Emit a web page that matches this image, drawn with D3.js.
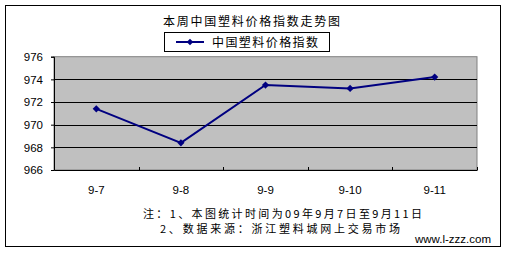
<!DOCTYPE html>
<html><head><meta charset="utf-8">
<script src="https://cdn.jsdelivr.net/npm/d3@7"></script>
<style>
html,body{margin:0;padding:0;background:#fff;}
svg{display:block;}
</style></head>
<body>
<svg id="c" width="508" height="258"></svg>
<script>
const categories = ["9-7","9-8","9-9","9-10","9-11"];
const values = [971.4, 968.4, 973.5, 973.2, 974.2];
const yTicks = [966, 968, 970, 972, 974, 976];
const title = "本周中国塑料价格指数走势图";
const seriesName = "中国塑料价格指数";
const notes = ["注：1、本图统计时间为09年9月7日至9月11日", "2、数据来源：浙江塑料城网上交易市场"];
const site = "www.l-zzz.com";

const svg = d3.select("#c");
const cjk = "'Noto Sans CJK SC', sans-serif";
const lat = "'Liberation Sans', Arial, sans-serif";
const navy = "#000080";

// outer frame
svg.append("rect").attr("x",5.5).attr("y",5.5).attr("width",495).attr("height",241)
  .attr("fill","#fff").attr("stroke","#000").attr("stroke-width",1);

const L=54, R=477, T=56.7, B=170;
const x = d3.scaleBand().domain(categories).range([L,R]);
const y = d3.scaleLinear().domain([966,976]).range([B,T]);

// plot background
svg.append("rect").attr("x",L).attr("y",T).attr("width",R-L).attr("height",B-T)
  .attr("fill","#c0c0c0").attr("stroke","#808080").attr("stroke-width",1);

// gridlines
svg.append("g").selectAll("line").data(yTicks.filter(d=>d>966&&d<976)).join("line")
  .attr("x1",L).attr("x2",R).attr("y1",d=>Math.round(y(d))+0.5).attr("y2",d=>Math.round(y(d))+0.5)
  .attr("stroke","#000").attr("stroke-width",1);

// y axis
const ya = svg.append("g").attr("transform",`translate(${L},0)`)
  .call(d3.axisLeft(y).tickValues(yTicks).tickSize(3).tickPadding(8));
ya.select(".domain").attr("stroke","#000");
ya.selectAll("text").attr("font-family",lat).attr("font-size","11.5px").attr("fill","#000");

// x axis
const xa = svg.append("g").attr("transform",`translate(0,${B})`)
  .call(d3.axisBottom(x).tickSize(0).tickPadding(16));
xa.select(".domain").attr("stroke","#000");
xa.selectAll("text").attr("font-family",lat).attr("font-size","11.5px").attr("fill","#000");
// boundary tick marks
const bounds = categories.slice(1).map(c=>x(c));
bounds.push(R);
svg.append("g").selectAll("line").data(bounds).join("line")
  .attr("x1",d=>Math.round(d)+0.5).attr("x2",d=>Math.round(d)+0.5).attr("y1",B-3).attr("y2",B)
  .attr("stroke","#000");

// line
const cx = c => x(c)+x.bandwidth()/2;
svg.append("path").datum(values)
  .attr("d", d3.line().x((d,i)=>cx(categories[i])).y(d=>y(d)))
  .attr("fill","none").attr("stroke",navy).attr("stroke-width",2);
svg.append("g").selectAll("path").data(values).join("path")
  .attr("transform",(d,i)=>`translate(${cx(categories[i])},${y(d)}) rotate(45)`)
  .attr("d", d3.symbol().type(d3.symbolSquare).size(26)).attr("fill",navy);

// title
svg.append("text").attr("x",163).attr("y",26)
  .attr("font-family",cjk).attr("font-size","12px")
  .attr("textLength",177).attr("lengthAdjust","spacing")
  .text(title);

// legend
svg.append("rect").attr("x",164.5).attr("y",32.5).attr("width",165).attr("height",19)
  .attr("fill","#fff").attr("stroke","#000");
svg.append("line").attr("x1",176).attr("x2",204).attr("y1",42).attr("y2",42)
  .attr("stroke",navy).attr("stroke-width",2);
svg.append("path").attr("transform","translate(190,42) rotate(45)")
  .attr("d", d3.symbol().type(d3.symbolSquare).size(22)).attr("fill",navy);
svg.append("text").attr("x",212).attr("y",46.5)
  .attr("font-family",cjk).attr("font-size","12px")
  .attr("textLength",106).attr("lengthAdjust","spacing")
  .text(seriesName);

// notes
svg.append("text").attr("x",143).attr("y",217.5).attr("font-family",cjk).attr("font-size","11px")
  .attr("textLength",279).attr("lengthAdjust","spacing").text(notes[0]);
svg.append("text").attr("x",160).attr("y",233).attr("font-family",cjk).attr("font-size","11px")
  .attr("textLength",240).attr("lengthAdjust","spacing").text(notes[1]);
svg.append("text").attr("x",491).attr("y",243).attr("text-anchor","end")
  .attr("font-family",lat).attr("font-size","11.5px").text(site);
</script>
</body></html>
